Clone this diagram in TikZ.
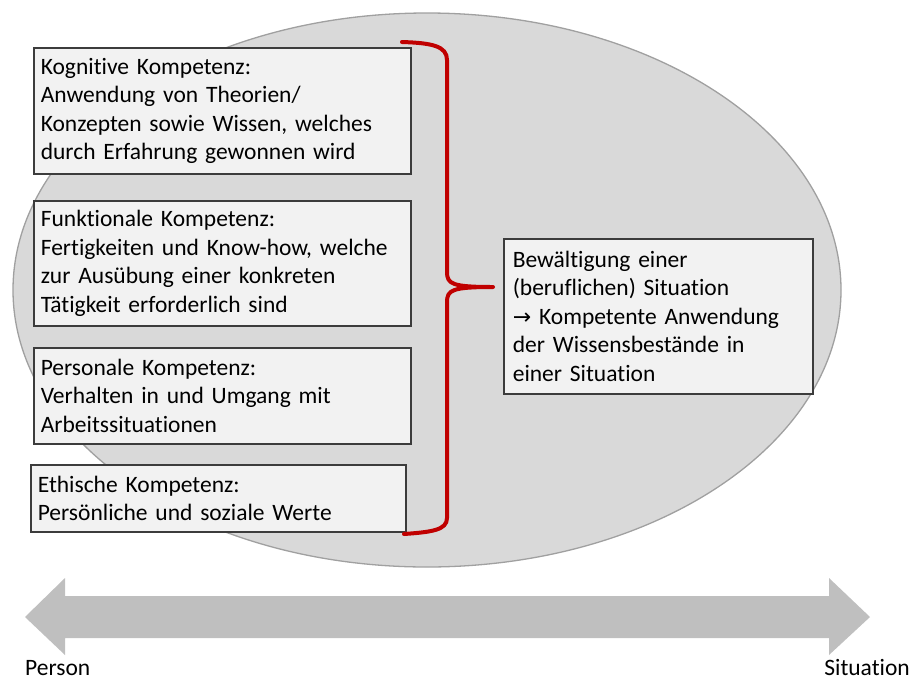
\documentclass[tikz,border=0pt]{standalone}
\usepackage{fontspec}
\setmainfont{Carlito}[Ligatures={NoCommon}]
\newfontfamily\symfont{DejaVu Sans}
\definecolor{ellfill}{HTML}{D9D9D9}
\definecolor{ellline}{HTML}{A0A0A0}
\definecolor{boxfill}{HTML}{F2F2F2}
\definecolor{boxline}{HTML}{3C3C3C}
\definecolor{bracered}{HTML}{C00000}
\definecolor{arrowgray}{HTML}{BFBFBF}
\begin{document}
\begin{tikzpicture}[x=1pt,y=-1pt,
  kbox/.style={draw=boxline, line width=1.6pt, fill=boxfill, anchor=north west,
    align=left, inner xsep=7pt, inner ysep=0pt,
    font=\fontsize{23.5}{28.5}\selectfont},
  axislabel/.style={inner sep=0pt, font=\fontsize{23.5}{28.5}\selectfont}]
\useasboundingbox (0,0) rectangle (918,681);
% ellipse
\draw[fill=ellfill, draw=ellline, line width=1.3pt] (427,290) ellipse [x radius=414, y radius=277];
% boxes
\node[kbox, minimum width=377pt, minimum height=126pt, text width=363pt] (kog) at (33,47)
  {Kognitive Kompetenz:\\Anwendung von Theorien/\\Konzepten sowie Wissen, welches\\durch Erfahrung gewonnen wird};
\node[kbox, minimum width=377pt, minimum height=125pt, text width=363pt] (fun) at (33,200)
  {Funktionale Kompetenz:\\Fertigkeiten und Know-how, welche\\zur Ausübung einer konkreten\\Tätigkeit erforderlich sind};
\node[kbox, minimum width=377pt, minimum height=96pt, text width=363pt] (per) at (33,347)
  {Personale Kompetenz:\\Verhalten in und Umgang mit\\Arbeitssituationen};
\node[kbox, minimum width=375pt, minimum height=67pt, text width=361pt] (eth) at (30,464)
  {Ethische Kompetenz:\\Persönliche und soziale Werte};
\node[kbox, minimum width=309pt, minimum height=155pt, text width=291pt, inner xsep=9pt] (sit) at (503,238)
  {Bewältigung einer\\(beruflichen) Situation\\{\symfont\fontsize{22}{28.5}\selectfont →} Kompetente Anwendung\\der Wissensbestände in\\einer Situation};
% brace
\draw[bracered, line width=4pt, line cap=round, line join=round]
  (402,42) .. controls (432,43) and (447,46) .. (447,60) -- (447,272)
  .. controls (447,284) and (452,287) .. (493,287)
  .. controls (452,287) and (447,290) .. (447,302) -- (447,518)
  .. controls (447,530) and (432,532) .. (404,534);
% double arrow
\fill[arrowgray] (25,617) -- (65,578) -- (65,596) -- (829,596) -- (829,578) -- (870,617)
  -- (829,655) -- (829,638) -- (65,638) -- (65,655) -- cycle;
\node[axislabel, anchor=base west] (person) at (25,675) {Person};
\node[axislabel, anchor=base east] (situation) at (910,675) {Situation};
\end{tikzpicture}
\end{document}
